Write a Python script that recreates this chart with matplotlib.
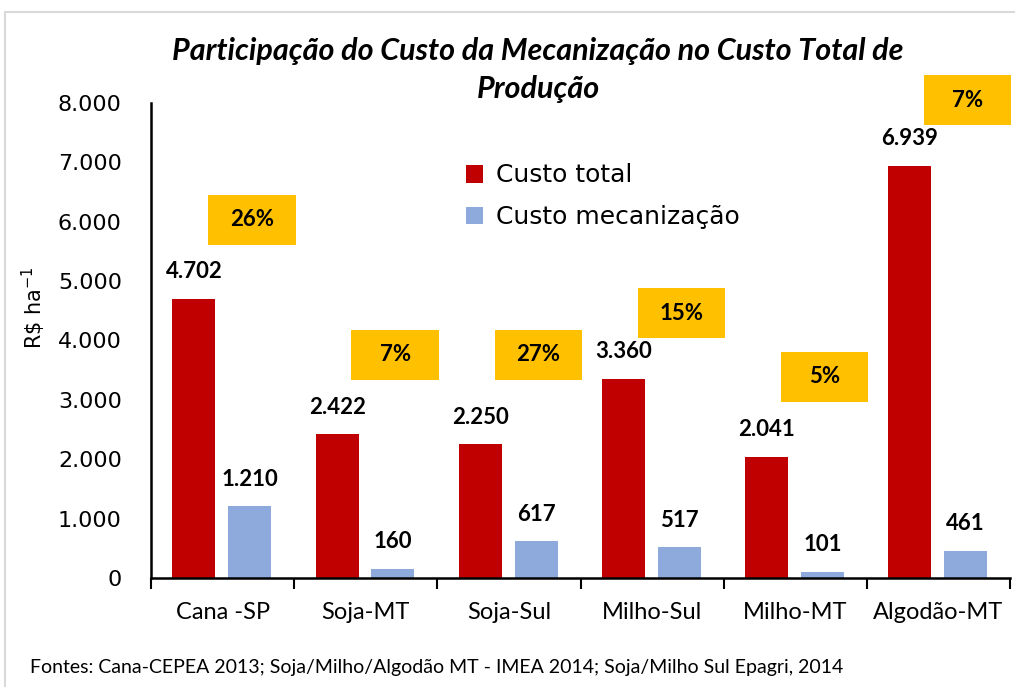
import matplotlib.pyplot as plt
import matplotlib.patches as mpatches
import numpy as np

# Data
categories = ['Cana -SP', 'Soja-MT', 'Soja-Sul', 'Milho-Sul', 'Milho-MT', 'Algodão-MT']
custo_total = [4702, 2422, 2250, 3360, 2041, 6939]
custo_mec = [1210, 160, 617, 517, 101, 461]
participacao = ['26%', '7%', '27%', '15%', '5%', '7%']
# vertical centre of each percentage box (in R$ ha-1)
box_y = [6030, 3760, 3760, 4460, 3390, 8050]

red = '#C00000'
blue = '#8EA9DB'
orange = '#FFC000'
calibri = 'Lato'

fig = plt.figure(figsize=(10.15, 6.87), dpi=100)
ax = fig.add_axes([151 / 1015, 1 - 578 / 687, (1010 - 151) / 1015, (578 - 103) / 687])

x = np.arange(len(categories))
w = 0.30
ax.bar(x - 0.2, custo_total, w, color=red, label='Custo total')
ax.bar(x + 0.19, custo_mec, w, color=blue, label='Custo mecanização')

def fmt(v):
    return f'{v:,}'.replace(',', '.')

box_w, box_h = 0.61, 842
for i in range(len(categories)):
    ax.text(x[i] - 0.2, custo_total[i] + 455, fmt(custo_total[i]), ha='center', va='center',
            fontsize=16, fontweight='bold', family=calibri)
    ax.text(x[i] + 0.19, custo_mec[i] + 455, fmt(custo_mec[i]), ha='center', va='center',
            fontsize=16, fontweight='bold', family=calibri)
    ax.add_patch(mpatches.Rectangle((x[i] + 0.205 - box_w / 2, box_y[i] - box_h / 2), box_w, box_h,
                                    facecolor=orange, edgecolor='none', clip_on=False))
    ax.text(x[i] + 0.205, box_y[i], participacao[i], ha='center', va='center',
            fontsize=16, fontweight='bold', family=calibri, clip_on=False)

ax.set_xlim(-0.5, len(categories) - 0.5)
ax.set_ylim(0, 8000)
ax.set_yticks(range(0, 8001, 1000))
ax.set_yticklabels([fmt(v) for v in range(0, 8001, 1000)], fontsize=16)
ax.tick_params(axis='y', length=0, pad=21)
ax.set_xticks(x)
ax.set_xticklabels(categories, fontsize=17, family=calibri)
ax.set_xticks(np.arange(-0.5, len(categories)), minor=True)
ax.tick_params(axis='x', which='major', length=0, pad=17)
ax.tick_params(axis='x', which='minor', length=8, width=1.5, direction='out')

for s in ['top', 'right']:
    ax.spines[s].set_visible(False)
ax.spines['left'].set_linewidth(1.8)
ax.spines['bottom'].set_linewidth(1.8)

ax.set_ylabel('R\\$ ha$^{\\mathregular{-1}}$', fontsize=15)
ax.yaxis.set_label_coords(-0.12, 0.57)

ax.legend(loc='upper left', bbox_to_anchor=(0.34, 0.92), frameon=False, fontsize=18,
          handlelength=0.7, handleheight=0.7, handletextpad=0.5, labelspacing=0.7)

fig.text(538 / 1015, 1 - 70 / 687, 'Participação do Custo da Mecanização no Custo Total de\nProdução',
         ha='center', va='center', fontsize=22, fontweight='bold', style='italic',
         family=calibri, linespacing=1.4)

fig.text(30 / 1015, 1 - 668 / 687, 'Fontes: Cana-CEPEA 2013; Soja/Milho/Algodão MT - IMEA 2014; Soja/Milho Sul Epagri, 2014',
         ha='left', va='center', fontsize=14, family=calibri)

frame = mpatches.Rectangle((5 / 1015, -0.1), 1.2, 1 - 12 / 687 + 0.1, transform=fig.transFigure,
                           fill=False, edgecolor='#D9D9D9', linewidth=1.5)
fig.add_artist(frame)

fig.savefig('out.png', dpi=100)
